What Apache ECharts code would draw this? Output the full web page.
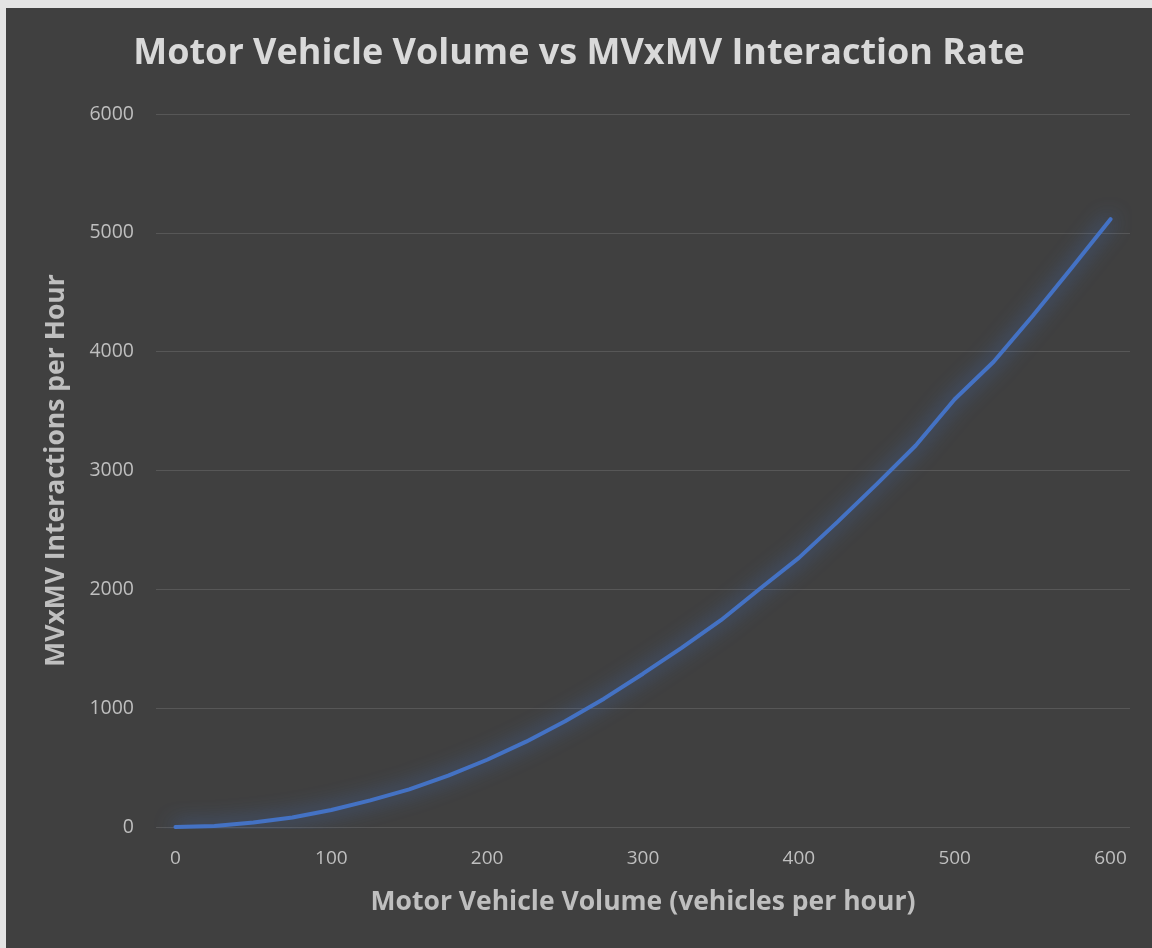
<!DOCTYPE html>
<html>
<head>
<meta charset="utf-8">
<script src="https://cdn.jsdelivr.net/npm/echarts@6/dist/echarts.min.js"></script>
<style>
  html, body { margin: 0; padding: 0; background: #e4e4e4; }
  #chart { position: absolute; left: 6px; top: 8px; width: 1146px; height: 940px; }
</style>
</head>
<body>
<div id="chart"></div>
<script>
// vehicles per hour, step 25
var volumes = ['0', '25', '50', '75', '100', '125', '150', '175', '200', '225', '250', '275', '300',
  '325', '350', '375', '400', '425', '450', '475', '500', '525', '550', '575', '600'];
// interactions per hour
var interactions = [0, 9, 38, 80, 143, 224, 316, 432, 566, 718, 890, 1080, 1290,
  1510, 1740, 2005, 2265, 2570, 2885, 3210, 3600, 3915, 4300, 4705, 5115];
var yTicks = { min: 0, max: 6000, step: 1000 };

var chart = echarts.init(document.getElementById('chart'));

var labelColor = '#bfbfbf';
var font = '"Open Sans", "Noto Sans", sans-serif';

var option = {
  backgroundColor: '#404040',
  animation: false,
  title: {
    text: 'Motor Vehicle Volume vs MVxMV Interaction Rate',
    left: 'center',
    top: 23,
    textStyle: { color: '#d9d9d9', fontSize: 36, fontWeight: 'bold', fontFamily: font }
  },
  grid: { left: 150, right: 22, top: 106, bottom: 121 },
  xAxis: {
    type: 'category',
    data: volumes,
    boundaryGap: true,
    name: 'Motor Vehicle Volume (vehicles per hour)',
    nameLocation: 'middle',
    nameGap: 62,
    nameTextStyle: { color: labelColor, fontSize: 26.5, fontWeight: 'bold', fontFamily: font },
    axisLine: { show: false },
    axisTick: { show: false },
    axisLabel: { interval: 3, color: labelColor, fontSize: 19, fontFamily: font, margin: 22 },
    splitLine: { show: false }
  },
  yAxis: {
    type: 'value',
    min: yTicks.min,
    max: yTicks.max,
    interval: yTicks.step,
    name: 'MVxMV Interactions per Hour',
    nameLocation: 'middle',
    nameGap: 86,
    nameTextStyle: { color: labelColor, fontSize: 26.5, fontWeight: 'bold', fontFamily: font },
    axisLine: { show: false },
    axisTick: { show: false },
    axisLabel: {
      color: labelColor, fontSize: 19.5, fontFamily: font, margin: 22,
      formatter: function (v) { return String(v); }
    },
    splitLine: { lineStyle: { color: '#575757', width: 1 } }
  },
  series: [{
    type: 'line',
    data: interactions,
    showSymbol: false,
    smooth: false,
    lineStyle: {
      color: '#4472c4',
      width: 4,
      cap: 'round',
      shadowColor: '#4472c4',
      shadowBlur: 20
    }
  }]
};

chart.setOption(option);
</script>
</body>
</html>
